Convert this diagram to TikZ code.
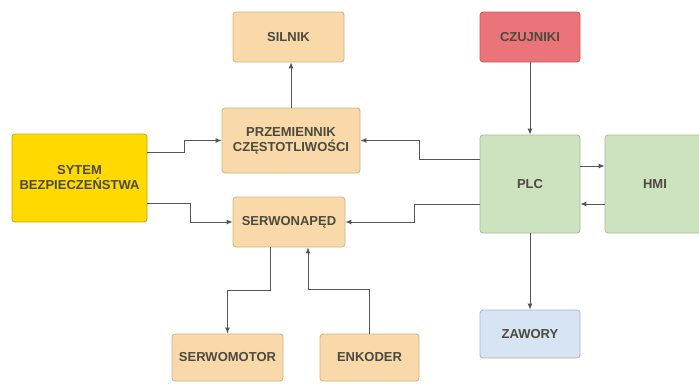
\documentclass[tikz,border=0pt]{standalone}
\usepackage{fontspec}
\setmainfont{Liberation Sans}
\usetikzlibrary{arrows.meta}
\definecolor{orfill}{HTML}{F9D9A9}
\definecolor{ordraw}{HTML}{D2B182}
\definecolor{yefill}{HTML}{FFD900}
\definecolor{yedraw}{HTML}{C9A900}
\definecolor{refill}{HTML}{EA7479}
\definecolor{redraw}{HTML}{C7585F}
\definecolor{grfill}{HTML}{CDE2BF}
\definecolor{grdraw}{HTML}{A3BD96}
\definecolor{blfill}{HTML}{D7E4F3}
\definecolor{bldraw}{HTML}{A8B6C8}
\definecolor{txt}{HTML}{4B4A3C}
\definecolor{ln}{HTML}{555555}
\tikzset{
  box/.style={draw, rounded corners=3pt, line width=0.8pt, inner sep=0pt,
    align=center, text=txt, font=\fontsize{13}{15}\selectfont\bfseries},
  orbox/.style={box, fill=orfill, draw=ordraw},
  yebox/.style={box, fill=yefill, draw=yedraw},
  rebox/.style={box, fill=refill, draw=redraw},
  grbox/.style={box, fill=grfill, draw=grdraw},
  blbox/.style={box, fill=blfill, draw=bldraw},
  conn/.style={draw=ln, line width=0.9pt, -{Latex[length=6pt,width=5pt]}},
}
\begin{document}
\begin{tikzpicture}[x=1pt,y=1pt]
\useasboundingbox (0,0) rectangle (699,-383);
\fill[white] (0,0) rectangle (699,-383);
\node[orbox, minimum width=111pt, minimum height=50pt] (sil) at (288.5,-37) {SILNIK};
\node[orbox, minimum width=138pt, minimum height=65pt] (prz) at (291,-140.5) {PRZEMIENNIK\\CZĘSTOTLIWOŚCI};
\node[yebox, minimum width=135pt, minimum height=88pt] (syt) at (79.5,-178) {SYTEM\\BEZPIECZEŃSTWA};
\node[orbox, minimum width=112pt, minimum height=50pt] (serw) at (289,-222) {SERWONAPĘD};
\node[orbox, minimum width=111pt, minimum height=47pt] (smot) at (227.5,-357.5) {SERWOMOTOR};
\node[orbox, minimum width=99pt, minimum height=47pt] (enk) at (369.5,-357.5) {ENKODER};
\node[rebox, minimum width=100pt, minimum height=50pt] (czu) at (530,-37) {CZUJNIKI};
\node[grbox, minimum width=100pt, minimum height=98pt] (plc) at (530,-184) {PLC};
\node[grbox, minimum width=100pt, minimum height=98pt] (hmi) at (655,-184) {HMI};
\node[blbox, minimum width=100pt, minimum height=48pt] (zaw) at (530,-334) {ZAWORY};
% connectors
\draw[conn] (prz.north) -- (prz.north |- sil.south);
\draw[conn] ([yshift=26pt]syt.east) -- ++(37,0) |- (prz.west);
\draw[conn] ([yshift=-25pt]syt.east) -- ++(43,0) |- (serw.west);
\draw[conn] ([yshift=25pt]plc.west) -- ++(-60,0) |- (prz.east);
\draw[conn] ([yshift=-20pt]plc.west) -- ++(-65,0) |- (serw.east);
\draw[conn] (czu) -- (plc);
\draw[conn] ([yshift=18pt]plc.east) -- ([yshift=18pt]hmi.west);
\draw[conn] ([yshift=-20pt]hmi.west) -- ([yshift=-20pt]plc.east);
\draw[conn] (plc) -- (zaw);
\draw[conn] ([xshift=-19pt]serw.south) -- ++(0,-43) -| (smot.north);
\draw[conn] (enk.north) -- ++(0,44) -| ([xshift=19pt]serw.south);
\end{tikzpicture}
\end{document}
